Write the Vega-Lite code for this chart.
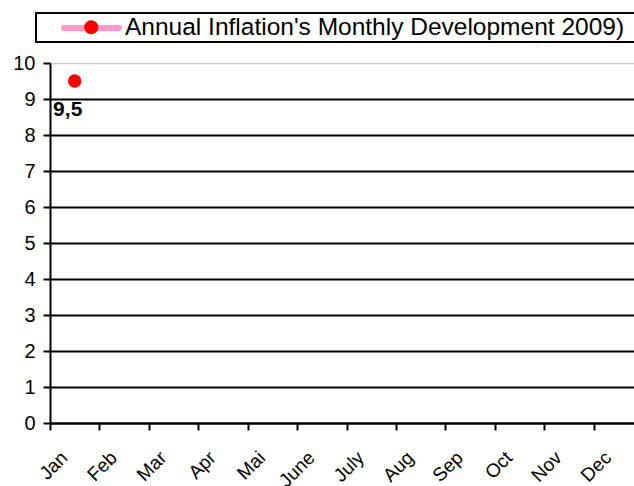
{
  "$schema": "https://vega.github.io/schema/vega-lite/v6.json",
  "autosize": {"type": "none"},
  "padding": {"left": 50, "top": 63, "right": 0, "bottom": 63},
  "width": 584,
  "height": 360,
  "background": "white",
  "config": {
    "font": "Liberation Sans",
    "view": {"stroke": null},
    "locale": {"number": {"decimal": ",", "thousands": ".", "grouping": [3], "currency": ["", " €"]}}
  },
  "data": {"values": [{"month": "Jan", "value": 9.5, "series": "Annual Inflation's Monthly Development 2009)"}]},
  "encoding": {
    "x": {
      "field": "month", "type": "ordinal",
      "scale": {"domain": ["Jan","Feb","Mar","Apr","Mai","June","July","Aug","Sep","Oct","Nov","Dec"], "range": [0, 593], "paddingInner": 0, "paddingOuter": 0},
      "axis": {"title": null, "labelAngle": -45, "labelFontSize": 19, "labelColor": "black", "labelAlign": "right", "labelBaseline": "top", "labelPadding": 18, "labelOffset": -17,
               "tickBand": "extent", "tickSize": 7, "tickWidth": 2, "tickColor": "black", "domainColor": "black", "domainWidth": 2, "grid": false}
    },
    "y": {
      "field": "value", "type": "quantitative",
      "scale": {"domain": [0, 10], "nice": false},
      "axis": {"title": null, "values": [0,1,2,3,4,5,6,7,8,9,10], "labelFontSize": 20, "labelColor": "black", "labelPadding": 8,
               "tickSize": 7, "tickWidth": 2, "tickColor": "black", "domainColor": "black", "domainWidth": 2,
               "grid": true,
               "gridColor": {"condition": {"test": "datum.value == 10", "value": "#cfcfcf"}, "value": "black"},
               "gridWidth": {"condition": {"test": "datum.value == 10", "value": 1.5}, "value": 2}}
    }
  },
  "layer": [
    {
      "mark": {"type": "line", "strokeWidth": 6},
      "encoding": {
        "stroke": {
          "field": "series", "type": "nominal",
          "scale": {"range": ["#ff99cc"]},
          "legend": {"orient": "none", "legendX": -14, "legendY": -50, "zindex": 1, "title": null,
                     "direction": "horizontal", "columns": 2, "columnPadding": 0,
                     "values": ["Annual Inflation's Monthly Development 2009)", "zz"],
                     "strokeColor": "black", "padding": 2,
                     "symbolType": "M-2.75,0H2.75", "symbolSize": 400, "symbolStrokeWidth": 6, "symbolOffset": 40.5,
                     "labelFontSize": 24.5, "labelColor": "black", "labelLimit": 2000, "labelOffset": 20.5,
                     "labelExpr": "datum.value == 'zz' ? '' : datum.label",
                     "encode": {"symbols": {"update": {"strokeCap": {"value": "round"}, "opacity": {"signal": "datum.value == 'zz' ? 0 : 1"}}},
                                "legend": {"update": {"strokeWidth": {"value": 2}}}}}
        }
      }
    },
    {
      "mark": {"type": "point", "filled": true, "size": 180, "opacity": 1},
      "encoding": {
        "fill": {
          "field": "series", "type": "nominal",
          "scale": {"domain": ["Annual Inflation's Monthly Development 2009)"], "range": ["#ff0000"]},
          "legend": {"orient": "none", "legendX": -14, "legendY": -50, "title": null, "zindex": 2,
                     "padding": 2, "symbolType": "circle", "symbolSize": 200, "symbolStrokeWidth": 0, "symbolOffset": 41,
                     "labelFontSize": 24.5, "labelColor": "transparent", "labelExpr": "''"}
        }
      }
    },
    {
      "mark": {"type": "text", "align": "center", "baseline": "top", "dx": -7, "dy": 18, "fontSize": 21, "fontWeight": "bold", "color": "black"},
      "encoding": {"text": {"field": "value", "type": "quantitative", "format": ".1f"}}
    }
  ]
}
